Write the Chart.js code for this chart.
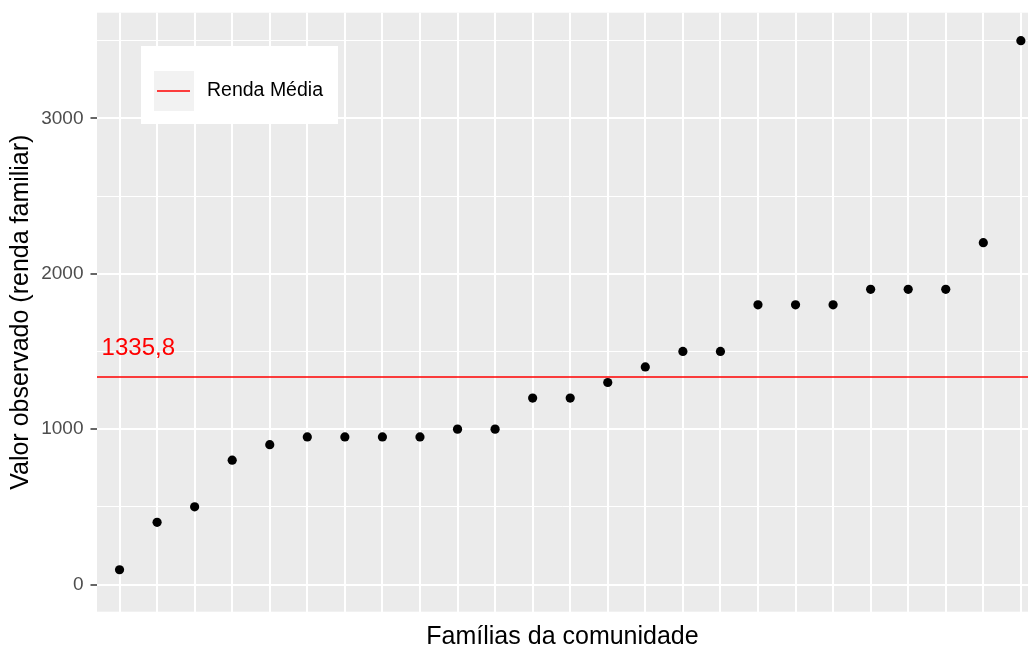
<!DOCTYPE html>
<html>
<head>
<meta charset="utf-8">
<script src="https://cdn.jsdelivr.net/npm/chart.js@4"></script>
<style>
  html, body { margin: 0; padding: 0; background: #fff; overflow: hidden; }
  #wrap { width: 1028px; height: 646px; }
</style>
</head>
<body>
<div id="wrap"><canvas id="chart"></canvas></div>
<script>
/* ── Data ──────────────────────────────────────────────── */
const familias = Array.from({ length: 25 }, (_, i) => i);   // 25 famílias, ordem crescente
const renda = [95, 400, 500, 800, 900, 950, 950, 950, 950, 1000, 1000, 1200, 1200,
               1300, 1400, 1500, 1500, 1800, 1800, 1800, 1900, 1900, 1900, 2200, 3500];
const yTicks = [0, 500, 1000, 1500, 2000, 2500, 3000, 3500];
const yLabels = [0, 1000, 2000, 3000];
const media = 1335.8;
const mediaLabel = '1335,8';
const legendLabel = 'Renda Média';

// scale limits (ggplot style expansion)
const xMin = -0.6, xMax = 24.19;
const yMin = -175, yMax = 3680;

const FONT = "Arial, 'Liberation Sans', sans-serif";

// drop Chart.js' automatic label overflow padding
const noPad = s => { s.paddingTop = 0; s.paddingBottom = 0; s.paddingLeft = 0; s.paddingRight = 0; };

// ── panel background + annotation + legend ───────────────
const ggPlugin = {
  id: 'ggPanel',
  beforeDraw(chart) {
    const { ctx, chartArea: a } = chart;
    ctx.save();
    ctx.fillStyle = '#EBEBEB';
    ctx.fillRect(a.left, a.top, a.right - a.left, a.bottom - a.top);
    ctx.restore();
  },
  afterDraw(chart) {
    const { ctx, scales: { x, y } } = chart;
    ctx.save();
    // mean label
    ctx.fillStyle = '#FF0000';
    ctx.font = `24px ${FONT}`;
    ctx.textAlign = 'center';
    ctx.textBaseline = 'middle';
    ctx.fillText(mediaLabel, x.getPixelForValue(0.5), y.getPixelForValue(media + 185));

    // legend box
    const bx = 141, by = 46, bw = 197, bh = 78;
    ctx.fillStyle = '#FFFFFF';
    ctx.fillRect(bx, by, bw, bh);
    ctx.fillStyle = '#F2F2F2';
    ctx.fillRect(bx + 13, by + 25, 40, 40);
    ctx.strokeStyle = '#FF0000';
    ctx.lineWidth = 1.5;
    ctx.beginPath();
    ctx.moveTo(bx + 16, by + 45);
    ctx.lineTo(bx + 49, by + 45);
    ctx.stroke();
    ctx.fillStyle = '#000000';
    ctx.font = `19.5px ${FONT}`;
    ctx.textAlign = 'left';
    ctx.fillText(legendLabel, bx + 66, by + 45);
    ctx.restore();
  }
};

new Chart(document.getElementById('chart'), {
  type: 'scatter',
  data: {
    datasets: [
      {
        type: 'line',
        label: legendLabel,
        data: [{ x: xMin, y: media }, { x: xMax, y: media }],
        borderColor: '#FF0000',
        borderWidth: 1.5,
        pointRadius: 0,
        order: 2
      },
      {
        label: 'Renda',
        data: familias.map((f, i) => ({ x: f, y: renda[i] })),
        backgroundColor: '#000000',
        borderColor: '#000000',
        pointRadius: 4.6,
        pointHoverRadius: 4.6,
        borderWidth: 0,
        order: 1
      }
    ]
  },
  options: {
    responsive: true,
    maintainAspectRatio: false,
    animation: false,
    events: [],
    layout: { autoPadding: false, padding: { top: 12.7, right: 0, bottom: 0, left: 0 } },
    plugins: {
      legend: { display: false },
      tooltip: { enabled: false }
    },
    scales: {
      x: {
        type: 'linear',
        min: xMin,
        max: xMax,
        afterBuildTicks: s => { s.ticks = familias.map(v => ({ value: v })); },
        afterFit: s => { s.height = 34.3; noPad(s); },
        ticks: { display: false },
        border: { display: false },
        grid: { color: '#FFFFFF', lineWidth: 2, drawTicks: false },
        title: {
          display: true,
          text: 'Famílias da comunidade',
          color: '#000000',
          font: { family: FONT, size: 25, lineHeight: 0.75 },
          padding: { top: 0, bottom: 0 }
        }
      },
      y: {
        min: yMin,
        max: yMax,
        afterBuildTicks: s => { s.ticks = yTicks.map(v => ({ value: v })); },
        afterFit: s => { s.width = 97; noPad(s); },
        border: { display: false },
        grid: {
          color: '#FFFFFF',
          lineWidth: c => (yLabels.includes(c.tick?.value) ? 2 : 1),
          tickColor: c => (yLabels.includes(c.tick?.value) ? '#333333' : 'rgba(0,0,0,0)'),
          tickLength: 6.5,
          tickWidth: 1.5
        },
        ticks: {
          padding: 7,
          color: '#4D4D4D',
          font: { family: FONT, size: 19 },
          callback: v => (yLabels.includes(v) ? String(v) : '')
        },
        title: {
          display: true,
          text: 'Valor observado (renda familiar)',
          color: '#000000',
          font: { family: FONT, size: 25, lineHeight: 1.2 },
          padding: { top: 6, bottom: 0 }
        }
      }
    }
  },
  plugins: [ggPlugin]
});
</script>
</body>
</html>
